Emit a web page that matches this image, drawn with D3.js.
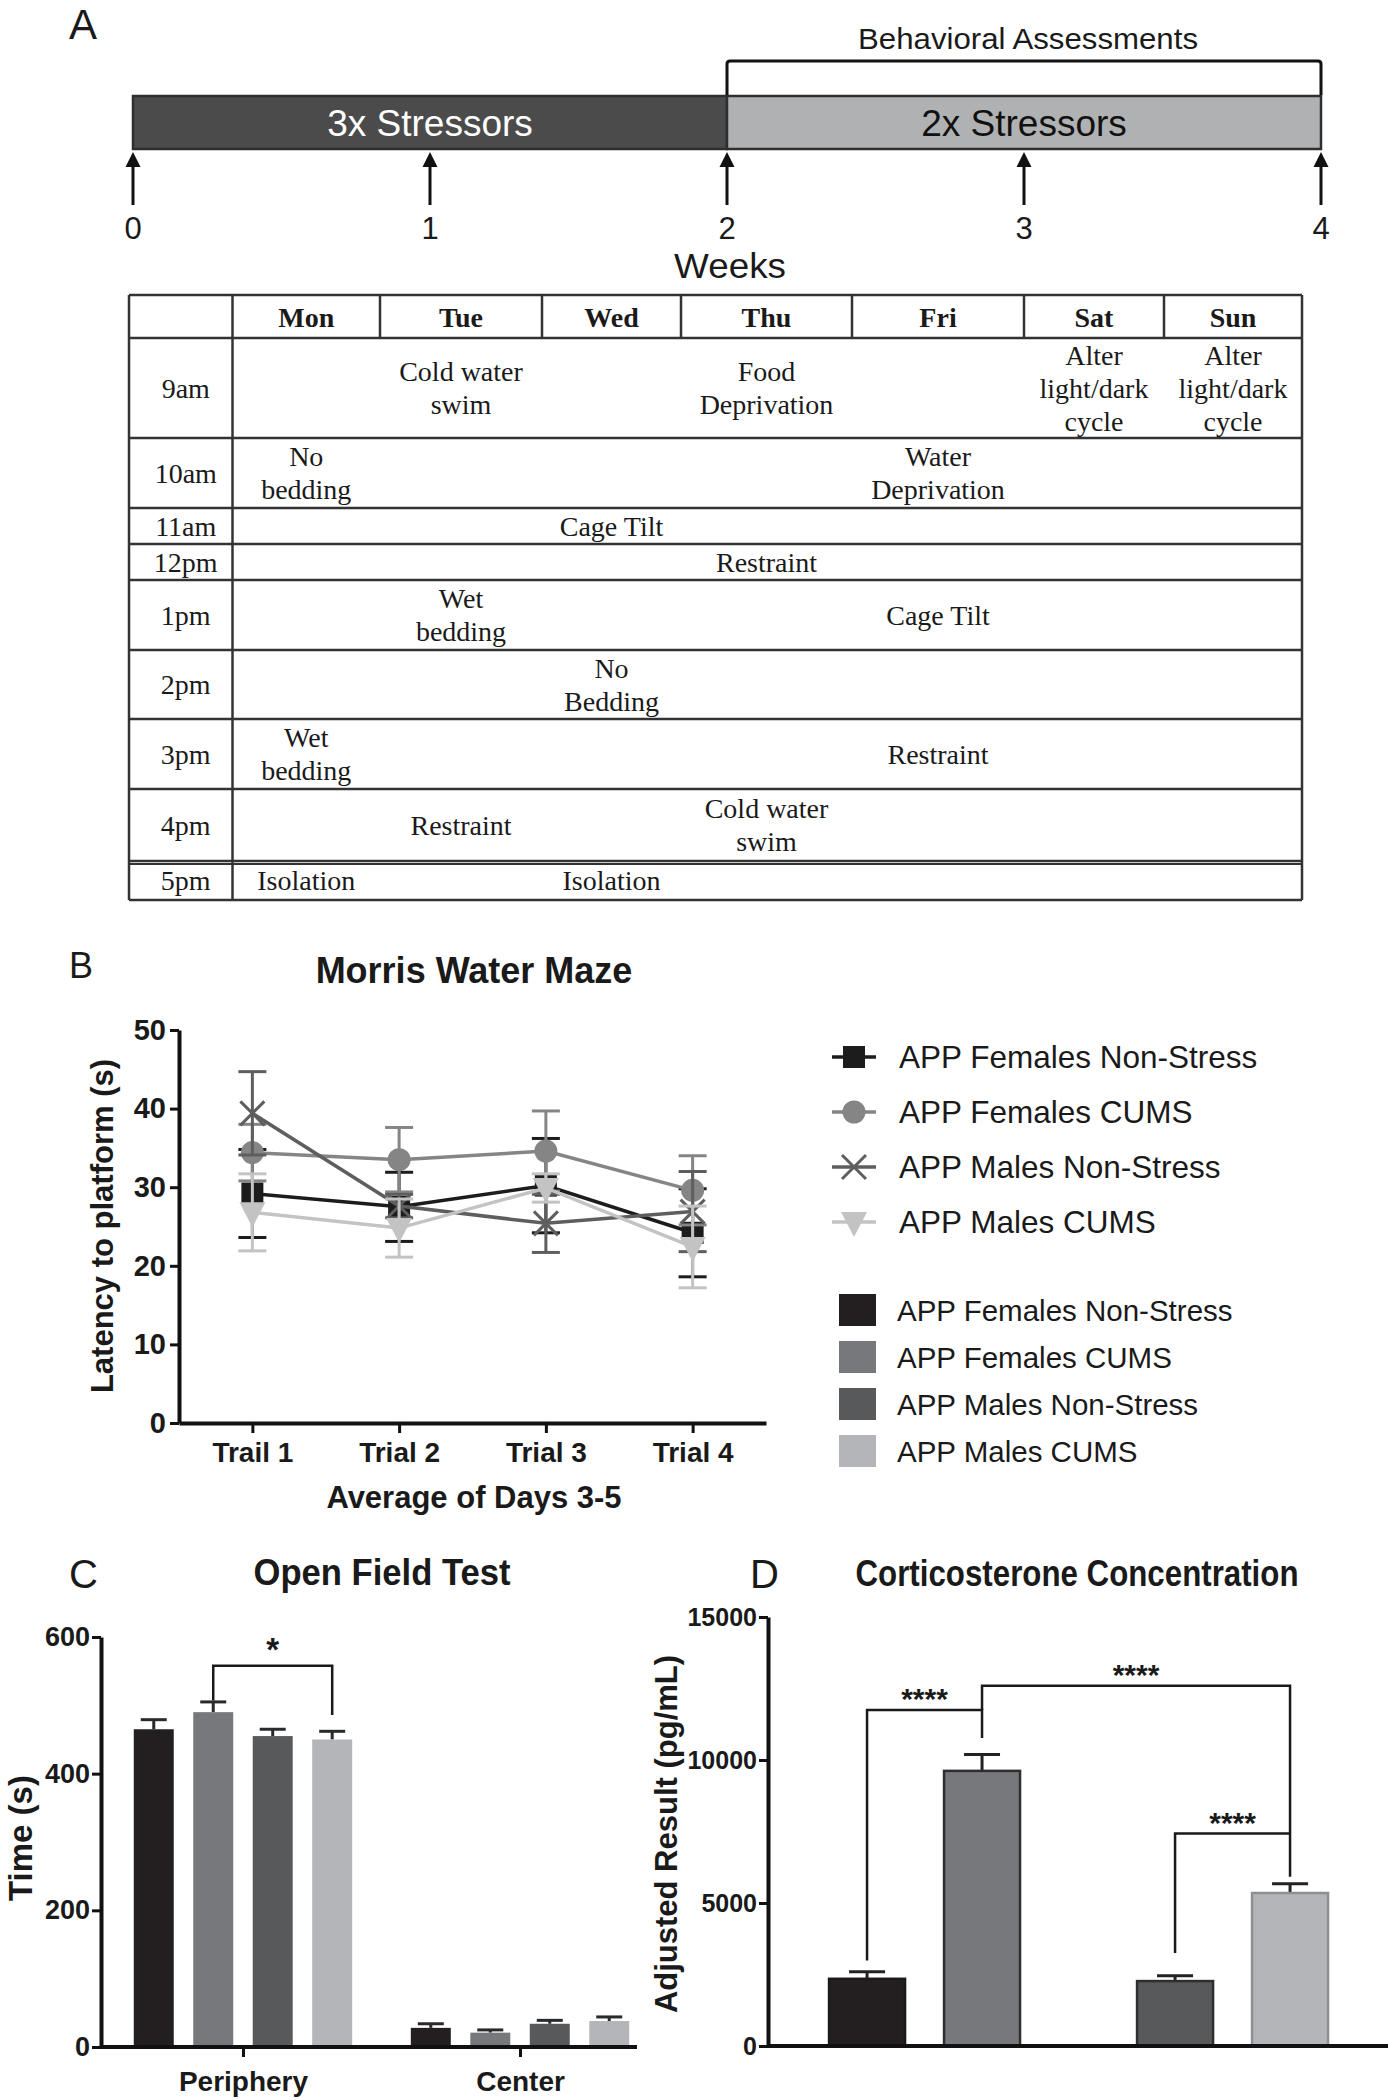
<!DOCTYPE html>
<html><head><meta charset="utf-8">
<script src="https://cdn.jsdelivr.net/npm/d3@7"></script>
<style>body{margin:0;background:#fff} svg{display:block}</style>
</head><body>
<svg id="fig" width="1388" height="2100"></svg>
<script>
// ================= DATA =================
const weeks = [0, 1, 2, 3, 4];
const phases = [
  { label: "3x Stressors", start: 0, end: 2 },
  { label: "2x Stressors", start: 2, end: 4 }
];
const assessment = { label: "Behavioral Assessments", start: 2, end: 4 };

const days = ["Mon", "Tue", "Wed", "Thu", "Fri", "Sat", "Sun"];
const times = ["9am", "10am", "11am", "12pm", "1pm", "2pm", "3pm", "4pm", "5pm"];
const schedule = [
  ["9am", "Tue", "Cold water|swim"], ["9am", "Thu", "Food|Deprivation"],
  ["9am", "Sat", "Alter|light/dark|cycle"], ["9am", "Sun", "Alter|light/dark|cycle"],
  ["10am", "Mon", "No|bedding"], ["10am", "Fri", "Water|Deprivation"],
  ["11am", "Wed", "Cage Tilt"],
  ["12pm", "Thu", "Restraint"],
  ["1pm", "Tue", "Wet|bedding"], ["1pm", "Fri", "Cage Tilt"],
  ["2pm", "Wed", "No|Bedding"],
  ["3pm", "Mon", "Wet|bedding"], ["3pm", "Fri", "Restraint"],
  ["4pm", "Tue", "Restraint"], ["4pm", "Thu", "Cold water|swim"],
  ["5pm", "Mon", "Isolation"], ["5pm", "Wed", "Isolation"]
];

const groups = ["APP Females Non-Stress", "APP Females CUMS", "APP Males Non-Stress", "APP Males CUMS"];

const trials = ["Trail 1", "Trial 2", "Trial 3", "Trial 4"];
const mwmFemalesNonStress = [29.2, 27.5, 30.2, 24.2];
const mwmFemalesCUMS      = [34.4, 33.5, 34.6, 29.6];
const mwmMalesNonStress   = [39.4, 27.6, 25.4, 26.9];
const mwmMalesCUMS        = [26.8, 24.8, 29.9, 22.4];
const mwmErrFemalesNonStress = [5.6, 4.4, 6.0, 5.6];
const mwmErrFemalesCUMS      = [3.6, 4.1, 5.1, 4.4];
const mwmErrMalesNonStress   = [5.3, 1.5, 3.7, 5.1];
const mwmErrMalesCUMS        = [4.9, 3.7, 1.8, 5.2];
const mwmTicks = [0, 10, 20, 30, 40, 50];

const oftZones = ["Periphery", "Center"];
const oftPeriphery    = [465, 490, 455, 450];
const oftPeripheryErr = [14, 15, 10, 12];
const oftCenter       = [28, 21, 34, 38];
const oftCenterErr    = [6, 4, 5, 6];
const oftTicks = [0, 200, 400, 600];
const oftComparisons = [{ zone: "Periphery", a: 1, b: 3, level: 558, legA: 507, legB: 486, label: "*" }];

const cortSex = ["Females", "Males"];
const cortValues = [2350, 9620, 2270, 5350];
const cortErr    = [250, 570, 190, 320];
const cortTicks = [0, 5000, 10000, 15000];
const cortComparisons = [
  { a: 0, b: 1, level: 11750, legA: 2990, legB: 10770, label: "****" },
  { a: 1, b: 3, level: 12600, legA: 11750, legB: 5920, label: "****" },
  { a: 2, b: 3, level: 7430, legA: 3250, legB: 7430, label: "****" }
];

// ================= STYLE / LAYOUT =================
const SANS = "'Liberation Sans', Arial, Helvetica, sans-serif";
const SERIF = "'Liberation Serif', 'Times New Roman', serif";
const lineColors = ["#1c1c1c", "#858585", "#5e5e5e", "#c3c3c3"];
const barColors = ["#231f20", "#77787b", "#58595b", "#b4b5b8"];
const barStrokes = ["#1a1a1a", "#2e2e2e", "#2e2e2e", "#8e8f92"];
const shapes = ["square", "circle", "x", "triangle"];

const svg = d3.select("#fig");

function txt(g, x, y, s, size, opts = {}) {
  return g.append("text").attr("x", x).attr("y", y).text(s)
    .attr("font-family", opts.family || SANS).attr("font-size", size)
    .attr("font-weight", opts.weight || "normal")
    .attr("text-anchor", opts.anchor || "start")
    .attr("fill", opts.fill || "#1a1a1a");
}

// ================= PANEL A : timeline =================
const gA = svg.append("g");
txt(gA, 69, 39, "A", 42);
const xw = d3.scaleLinear().domain([0, 4]).range([133, 1321]);
const barTop = 96, barBot = 149;
gA.selectAll("rect.phase").data(phases).join("rect")
  .attr("x", d => xw(d.start)).attr("y", barTop)
  .attr("width", d => xw(d.end) - xw(d.start)).attr("height", barBot - barTop)
  .attr("fill", (d, i) => i === 0 ? "#4b4b4c" : "#b0b1b3")
  .attr("stroke", "#2e2e2e").attr("stroke-width", 2.5);
gA.selectAll("text.phase").data(phases).join("text")
  .attr("x", d => (xw(d.start) + xw(d.end)) / 2).attr("y", (barTop + barBot) / 2 + 13)
  .attr("text-anchor", "middle").attr("font-family", SANS).attr("font-size", 37)
  .attr("fill", (d, i) => i === 0 ? "#ffffff" : "#111").text(d => d.label);
gA.append("path")
  .attr("d", `M${xw(assessment.start)},${barTop - 1}V64Q${xw(assessment.start)},61 ${xw(assessment.start) + 3},61H${xw(assessment.end) - 3}Q${xw(assessment.end)},61 ${xw(assessment.end)},64V${barTop - 1}`)
  .attr("fill", "none").attr("stroke", "#111").attr("stroke-width", 3);
txt(gA, (xw(assessment.start) + xw(assessment.end)) / 2 + 4, 49, assessment.label, 30, { anchor: "middle" })
  .attr("textLength", 340).attr("lengthAdjust", "spacingAndGlyphs");
weeks.forEach(w => {
  const x = xw(w);
  gA.append("line").attr("x1", x).attr("x2", x).attr("y1", 165).attr("y2", 205)
    .attr("stroke", "#111").attr("stroke-width", 3);
  gA.append("path").attr("d", `M${x},152L${x + 7.5},167L${x - 7.5},167Z`).attr("fill", "#111");
  txt(gA, x, 239, String(w), 31, { anchor: "middle" });
});
txt(gA, xw(2) + 3, 278, "Weeks", 35, { anchor: "middle" })
  .attr("textLength", 112).attr("lengthAdjust", "spacingAndGlyphs");

// ================= TABLE =================
const gT = svg.append("g");
const tableX0 = 129, tableY0 = 295;
const colWidths = [103.5, 147.5, 162, 139, 171, 172, 140, 138];
const rowHeights = [43, 100, 70, 36, 36, 70, 69, 70, 72, 39];
const colEdges = Array.from(d3.cumsum([tableX0, ...colWidths]));
const rowEdges = Array.from(d3.cumsum([tableY0, ...rowHeights]));
const colKeys = ["", ...days];
const rowKeys = ["", ...times];
const colC = k => { const i = colKeys.indexOf(k); return (colEdges[i] + colEdges[i + 1]) / 2; };
const rowC = k => { const i = rowKeys.indexOf(k); return (rowEdges[i] + rowEdges[i + 1]) / 2; };
const X0 = colEdges[0], X1 = colEdges[colEdges.length - 1];
const Y0 = rowEdges[0], Y1 = rowEdges[rowEdges.length - 1];
const lineCol = "#333";
rowEdges.forEach(y => gT.append("line").attr("x1", X0).attr("x2", X1).attr("y1", y).attr("y2", y)
  .attr("stroke", lineCol).attr("stroke-width", 2.5));
gT.append("line").attr("x1", X0).attr("x2", X1).attr("y1", rowEdges[9] + 3).attr("y2", rowEdges[9] + 3)
  .attr("stroke", lineCol).attr("stroke-width", 2);
[colEdges[0], colEdges[1], X1].forEach(x => gT.append("line").attr("x1", x).attr("x2", x)
  .attr("y1", Y0).attr("y2", Y1).attr("stroke", lineCol).attr("stroke-width", 2.5));
colEdges.slice(2, 8).forEach(x => gT.append("line").attr("x1", x).attr("x2", x)
  .attr("y1", Y0).attr("y2", rowEdges[1]).attr("stroke", lineCol).attr("stroke-width", 2.5));
days.forEach(d => txt(gT, colC(d), rowC("") + 10, d, 28, { family: SERIF, weight: "bold", anchor: "middle" }));
times.forEach(t => txt(gT, colC("") + 5, rowC(t) + 9.5, t, 28, { family: SERIF, anchor: "middle" }));
const LH = 33;
schedule.forEach(([t, d, s]) => {
  const lines = s.split("|");
  lines.forEach((ln, i) => {
    txt(gT, colC(d), rowC(t) + (i - (lines.length - 1) / 2) * LH + 9.5, ln, 28, { family: SERIF, anchor: "middle" });
  });
});

// ================= PANEL B : Morris Water Maze =================
const gB = svg.append("g");
txt(gB, 69, 978, "B", 36);
txt(gB, 474, 983, "Morris Water Maze", 36, { weight: "bold", anchor: "middle" });
const bx = d3.scalePoint().domain(trials).range([179, 766]).padding(0.5);
const by = d3.scaleLinear().domain([0, 50]).range([1423, 1030]);
const mwmSeries = [
  { values: mwmFemalesNonStress, err: mwmErrFemalesNonStress },
  { values: mwmFemalesCUMS, err: mwmErrFemalesCUMS },
  { values: mwmMalesNonStress, err: mwmErrMalesNonStress },
  { values: mwmMalesCUMS, err: mwmErrMalesCUMS }
].map((s, i) => ({ ...s, name: groups[i], color: lineColors[i], shape: shapes[i] }));

function marker(g, shape, x, y, color) {
  if (shape === "square") g.append("rect").attr("x", x - 11).attr("y", y - 11).attr("width", 22).attr("height", 22).attr("fill", color);
  else if (shape === "circle") g.append("circle").attr("cx", x).attr("cy", y).attr("r", 11.5).attr("fill", color);
  else if (shape === "triangle") g.append("path").attr("d", `M${x - 13},${y - 10}L${x + 13},${y - 10}L${x},${y + 15}Z`).attr("fill", color);
  else g.append("path").attr("d", `M${x - 12},${y - 12}L${x + 12},${y + 12}M${x - 12},${y + 12}L${x + 12},${y - 12}`)
    .attr("stroke", color).attr("stroke-width", 3).attr("fill", "none");
}

const lineGen = d3.line().x((d, i) => bx(trials[i])).y(d => by(d));
mwmSeries.forEach(s => {
  const g = gB.append("g");
  s.values.forEach((v, i) => {
    const x = bx(trials[i]);
    const yl = by(v - s.err[i]), yh = by(v + s.err[i]);
    g.append("line").attr("x1", x).attr("x2", x).attr("y1", yl).attr("y2", yh).attr("stroke", s.color).attr("stroke-width", 3);
    [yl, yh].forEach(yy => g.append("line").attr("x1", x - 14).attr("x2", x + 14).attr("y1", yy).attr("y2", yy)
      .attr("stroke", s.color).attr("stroke-width", 3));
  });
  g.append("path").datum(s.values).attr("d", lineGen).attr("fill", "none").attr("stroke", s.color).attr("stroke-width", 3.5);
  s.values.forEach((v, i) => marker(g, s.shape, bx(trials[i]), by(v), s.color));
});

const yAxB = gB.append("g").attr("transform", "translate(179,0)")
  .call(d3.axisLeft(by).tickValues(mwmTicks).tickSize(9).tickSizeOuter(0).tickPadding(4));
const xAxB = gB.append("g").attr("transform", "translate(0,1423)")
  .call(d3.axisBottom(bx).tickSize(10).tickSizeOuter(0).tickPadding(9));
[yAxB, xAxB].forEach(a => {
  a.select(".domain").attr("stroke", "#111").attr("stroke-width", 4);
  a.selectAll(".tick line").attr("stroke", "#111").attr("stroke-width", 3);
  a.selectAll(".tick text").attr("font-family", SANS).attr("font-weight", "bold").attr("fill", "#1a1a1a");
});
yAxB.selectAll(".tick text").attr("font-size", 29);
xAxB.selectAll(".tick text").attr("font-size", 28);
txt(gB, 0, 0, "Latency to platform (s)", 31, { weight: "bold", anchor: "middle" })
  .attr("transform", "translate(113,1226) rotate(-90)");
txt(gB, 474, 1508, "Average of Days 3-5", 31, { weight: "bold", anchor: "middle" });

// legends
const legLineY0 = 1057, legLineStep = 55;
mwmSeries.forEach((s, i) => {
  const y = legLineY0 + i * legLineStep;
  gB.append("line").attr("x1", 832).attr("x2", 876).attr("y1", y).attr("y2", y).attr("stroke", s.color).attr("stroke-width", 3.5);
  marker(gB, s.shape, 854, y, s.color);
  txt(gB, 899, y + 11, s.name, 31.5);
});
const legBarY0 = 1310, legBarStep = 47;
groups.forEach((name, i) => {
  const y = legBarY0 + i * legBarStep;
  gB.append("rect").attr("x", 839).attr("y", y - 16).attr("width", 37).attr("height", 32).attr("fill", barColors[i]);
  txt(gB, 897, y + 10.5, name, 29.5);
});

// ================= PANEL C : Open Field Test =================
const gC = svg.append("g");
txt(gC, 69, 1588, "C", 40);
txt(gC, 382, 1585, "Open Field Test", 37, { weight: "bold", anchor: "middle" })
  .attr("textLength", 257).attr("lengthAdjust", "spacingAndGlyphs");
const cx0 = d3.scaleBand().domain(oftZones).range([128, 635]).paddingInner(0.17);
const cx1 = d3.scaleBand().domain(groups).range([0, cx0.bandwidth()]).paddingInner(0.328).paddingOuter(0.097);
const cy = d3.scaleLinear().domain([0, 600]).range([2047, 1637]);
const oftData = [
  { zone: "Periphery", values: oftPeriphery, err: oftPeripheryErr },
  { zone: "Center", values: oftCenter, err: oftCenterErr }
];
const cxPos = (zone, i) => cx0(zone) + cx1(groups[i]) + cx1.bandwidth() / 2;
oftData.forEach(z => {
  z.values.forEach((v, i) => {
    const x = cx0(z.zone) + cx1(groups[i]);
    const xc = cxPos(z.zone, i);
    gC.append("line").attr("x1", xc).attr("x2", xc).attr("y1", cy(v)).attr("y2", cy(v + z.err[i]))
      .attr("stroke", "#2a2a2a").attr("stroke-width", 3);
    gC.append("line").attr("x1", xc - 13).attr("x2", xc + 13).attr("y1", cy(v + z.err[i])).attr("y2", cy(v + z.err[i]))
      .attr("stroke", "#2a2a2a").attr("stroke-width", 3);
    gC.append("rect").attr("x", x).attr("y", cy(v)).attr("width", cx1.bandwidth()).attr("height", cy(0) - cy(v))
      .attr("fill", barColors[i]);
  });
});
oftComparisons.forEach(c => {
  const xa = cxPos(c.zone, c.a), xb = cxPos(c.zone, c.b);
  gC.append("path").attr("d", `M${xa},${cy(c.legA)}V${cy(c.level)}H${xb}V${cy(c.legB)}`)
    .attr("fill", "none").attr("stroke", "#1a1a1a").attr("stroke-width", 2.5);
  txt(gC, (xa + xb) / 2, cy(c.level) - 5, c.label, 33, { weight: "bold", anchor: "middle" });
});
const yAxC = gC.append("g").attr("transform", "translate(101,0)")
  .call(d3.axisLeft(cy).tickValues(oftTicks).tickSize(9).tickSizeOuter(0).tickPadding(2));
const xAxC = gC.append("g").attr("transform", "translate(0,2047)")
  .call(d3.axisBottom(d3.scalePoint().domain(oftZones).range([cx0("Periphery") + cx0.bandwidth() / 2, cx0("Center") + cx0.bandwidth() / 2]))
    .tickSize(10).tickSizeOuter(0).tickPadding(14));
xAxC.select(".domain").remove();
xAxC.append("line").attr("x1", 101).attr("x2", 637).attr("y1", 0).attr("y2", 0).attr("stroke", "#111").attr("stroke-width", 4);
[yAxC, xAxC].forEach(a => {
  a.select(".domain").attr("stroke", "#111").attr("stroke-width", 4);
  a.selectAll(".tick line").attr("stroke", "#111").attr("stroke-width", 3);
  a.selectAll(".tick text").attr("font-family", SANS).attr("font-weight", "bold").attr("fill", "#1a1a1a").attr("font-size", 28);
});
yAxC.selectAll(".tick text").attr("font-size", 27);
txt(gC, 0, 0, "Time (s)", 33, { weight: "bold", anchor: "middle" })
  .attr("transform", "translate(32,1838) rotate(-90)");

// ================= PANEL D : Corticosterone =================
const gD = svg.append("g");
txt(gD, 750, 1588, "D", 40);
txt(gD, 1077, 1586, "Corticosterone Concentration", 37, { weight: "bold", anchor: "middle" })
  .attr("textLength", 443).attr("lengthAdjust", "spacingAndGlyphs");
const dx0 = d3.scaleBand().domain(cortSex).range([809.5, 1347.6]).paddingInner(0.253);
const dx1 = d3.scaleBand().domain([0, 1]).range([0, dx0.bandwidth()]).paddingInner(0.339).paddingOuter(0.17);
const dy = d3.scaleLinear().domain([0, 15000]).range([2046, 1617]);
const dLeft = i => dx0(cortSex[Math.floor(i / 2)]) + dx1(i % 2);
const dMid = i => dLeft(i) + dx1.bandwidth() / 2;
cortValues.forEach((v, i) => {
  const xc = dMid(i);
  gD.append("line").attr("x1", xc).attr("x2", xc).attr("y1", dy(v)).attr("y2", dy(v + cortErr[i]))
    .attr("stroke", "#222").attr("stroke-width", 3);
  gD.append("line").attr("x1", xc - 18).attr("x2", xc + 18).attr("y1", dy(v + cortErr[i])).attr("y2", dy(v + cortErr[i]))
    .attr("stroke", "#222").attr("stroke-width", 3);
  gD.append("rect").attr("x", dLeft(i)).attr("y", dy(v)).attr("width", dx1.bandwidth()).attr("height", dy(0) - dy(v))
    .attr("fill", barColors[i]).attr("stroke", barStrokes[i]).attr("stroke-width", 2.5);
});
cortComparisons.forEach(c => {
  const xa = dMid(c.a), xb = dMid(c.b);
  gD.append("path").attr("d", `M${xa},${dy(c.legA)}V${dy(c.level)}H${xb}V${dy(c.legB)}`)
    .attr("fill", "none").attr("stroke", "#1a1a1a").attr("stroke-width", 2.5);
  txt(gD, (xa + xb) / 2, dy(c.level) - 1, c.label, 30, { weight: "bold", anchor: "middle" });
});
const yAxD = gD.append("g").attr("transform", "translate(768,0)")
  .call(d3.axisLeft(dy).tickValues(cortTicks).tickSize(9).tickSizeOuter(0).tickPadding(2).tickFormat(d3.format("d")));
yAxD.select(".domain").attr("stroke", "#111").attr("stroke-width", 4);
yAxD.selectAll(".tick line").attr("stroke", "#111").attr("stroke-width", 3);
yAxD.selectAll(".tick text").attr("font-family", SANS).attr("font-weight", "bold").attr("fill", "#1a1a1a").attr("font-size", 25);
gD.append("line").attr("x1", 768).attr("x2", 1388).attr("y1", dy(0)).attr("y2", dy(0)).attr("stroke", "#111").attr("stroke-width", 4);
txt(gD, 0, 0, "Adjusted Result (pg/mL)", 31, { weight: "bold", anchor: "middle" })
  .attr("transform", "translate(677,1834) rotate(-90)");
</script>
</body></html>
